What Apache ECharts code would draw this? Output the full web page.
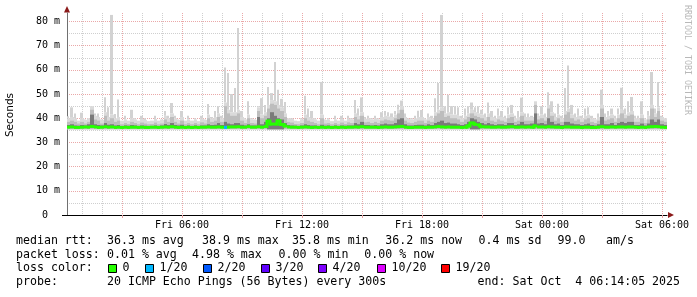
<!DOCTYPE html>
<html><head><meta charset="utf-8">
<script src="https://cdn.jsdelivr.net/npm/echarts@6/dist/echarts.min.js"></script>
<style>html,body{margin:0;padding:0;background:#fff}#c{width:697px;height:297px}</style>
</head><body><div id="c"></div>
<script>
// ---------- data (10-minute slots, Fri 00:15 -> Sat 06:15) ----------
const slotMinutes = 10;
const smokeFloor = 35.4;   // lowest ping, ms
const maxPing = [
 40.8,44.5,42,39,42.3,39.5,40,45,42,42,
 39.5,48.7,44.5,82.7,41.8,47.7,39,41,39,43.5,
 40,39,41,40,38.8,39,41,39,39.5,43,
 41,46.3,41,39.5,43,39,41,39,40,38.8,
 41,39.5,45.9,40.5,43,45,41,61,58.7,50,
 52.5,77.3,43,40,47,40,39.5,45,48.3,45.5,
 52.9,50.4,63.2,51.8,48,46.7,40,40,39,38.8,
 40,49.3,44,43,40,39,55,39.5,40,38.8,
 41,39,41,39,41,40,47.5,44,48.6,40.5,
 41,40,41,40,42.5,43,42.5,42,43,45.6,
 47.3,42,40,40,41,43.1,43.4,40,42,41,
 48.3,54.6,82.7,45,49.7,45,45,44.5,41,44,
 45,46.5,44.5,45,43.5,42,46.5,43,41,44,
 43,41,44.5,45.5,41,43,48.5,42,42,41,
 47,42,45,42,50.7,47,42,46,41,52.5,
 61.8,45.5,42,44,41,44,44.5,41,40,42,
 51.8,42,43,44,41,44,52.6,44,47,48.8,
 41,41,47,40,43,59.1,44,55,41,40];
const upperPing = [
 38.5,39,38.5,37.8,38.5,37.8,38.5,43.5,39.5,39,
 37.8,41,39,40,38.5,39,37.5,38,37.6,38.5,
 38,37.5,38.2,37.8,37.5,37.6,38.2,37.5,37.8,39.5,
 38.5,40.5,38.5,37.8,39,37.5,38,37.5,38,37.5,
 38.3,37.8,40,38.5,39,40.5,38.5,45,42,41,
 41,42,39,38,40,38,37.8,43,40,41,
 44,46,45.5,44,43,40.5,38.5,38.2,37.6,37.5,
 38,40,39,38.5,38,37.5,40,37.8,38,37.5,
 38,37.5,38.2,37.6,38.3,38,40.5,39.5,41,38.3,
 38.5,38,38.5,38,39,39.5,39.2,39,40,42,
 43.5,39,38.2,38,38.5,39,39,38,39,38.5,
 41,42,43,40.5,41,40,40,39.5,38.5,39.5,
 40.5,42,41,40.5,40,39,40.5,39,38.5,39.5,
 39,38.5,40,40.5,38.5,39,41,39,39,39,
 45.5,39.5,40,39,44,41,39,40,38.5,41.5,
 42.5,40,39,39.5,38.5,39.5,40,38.5,38,39,
 44,39,39.5,40,38.5,40,42,40,41,41.5,
 38.5,38.5,40,38,39.5,44,40.5,43,39,38.5];
const densePing = [
 37.2,37.5,37,36.9,37.2,37,37.5,41.5,37.5,37.2,
 37,38,37.3,37.5,37,37.2,36.8,37,36.9,37.2,
 37,36.8,37,36.9,36.8,36.8,37,36.8,37,37.6,
 37.2,38,37.2,37,37.3,36.8,37,36.8,37,36.8,
 37,37,37.5,37.2,37.3,38,37.2,38.5,37.8,37.5,
 38,38,37.3,37,37.5,37,37,40.5,37.5,38.5,
 40,42.5,41,40,39.5,38,37.2,37,36.9,36.8,
 37,37.5,37.2,37,37,36.8,37.3,36.9,37,36.8,
 37,36.8,37,36.9,37,37,38,37.5,38.5,37.2,
 37.2,37,37.2,37,37.5,37.8,37.5,37.5,38,39.5,
 40,37.5,37,37,37.2,37.3,37.3,37,37.5,37.2,
 38,38.5,39,38,38.2,37.8,37.8,37.5,37.2,37.5,
 38.5,40,39.5,38.5,38,37.5,38,37.5,37.2,37.5,
 37.5,37.2,38,38,37.2,37.5,38.5,37.5,37.5,37.8,
 42,37.8,38,37.5,40,38.5,37.5,37.8,37.2,38.5,
 38.5,37.8,37.5,37.5,37.2,37.5,37.8,37.2,37,37.5,
 40.5,37.5,37.5,38,37.2,38,38.5,38,38.5,38.5,
 37.2,37.2,37.8,37,37.8,39.5,38.5,39.5,37.5,37.2];
const medianRtt = [
 36.3,36.4,36.2,36.2,36.3,36.4,36.3,36.6,36.4,36.2,
 36.3,36.5,36.3,36.4,36.2,36.3,36.2,36.3,36.2,36.3,
 36.3,36.2,36.3,36.2,36.2,36.3,36.3,36.2,36.3,36.4,
 36.3,36.5,36.3,36.2,36.3,36.2,36.3,36.2,36.3,36.2,
 36.3,36.3,36.4,36.3,36.3,36.4,36.3,36.2,36.3,36.4,
 36.4,36.5,36.3,36.3,36.6,36.3,36.3,36.5,36.3,36.6,
 38.8,37.6,37.6,38.9,37.4,36.8,36.4,36.3,36.3,36.2,
 36.3,36.4,36.3,36.2,36.3,36.2,36.3,36.2,36.3,36.2,
 36.3,36.2,36.3,36.2,36.3,36.3,36.4,36.3,36.5,36.3,
 36.3,36.3,36.3,36.2,36.3,36.4,36.3,36.3,36.4,36.5,
 36.6,36.3,36.2,36.2,36.3,36.3,36.3,36.2,36.3,36.3,
 36.4,36.6,36.4,36.3,36.4,36.3,36.3,36.3,36.2,36.3,
 36.8,38,37.5,37.2,36.5,36.4,36.4,36.3,36.3,36.4,
 36.3,36.3,36.4,36.5,36.3,36.3,36.4,36.3,36.4,36.3,
 36.8,36.4,36.4,36.3,36.5,36.4,36.3,36.3,36.2,36.4,
 36.4,36.3,36.3,36.3,36.2,36.3,36.3,36.2,36.2,36.3,
 36.5,36.3,36.3,36.4,36.3,36.4,36.4,36.3,36.4,36.4,
 36.3,36.2,36.3,36.2,36.4,36.5,36.6,36.5,36.3,36.2];
const lossEvents = [[47, 1]];          // [slot, pings lost of 20]
const lossLevels = [0, 1, 2, 3, 4, 10, 19];
const lossLabels = ['0', '1/20', '2/20', '3/20', '4/20', '10/20', '19/20'];
const lossColors = ['#26ff00', '#00b8ff', '#0059ff', '#5e00ff', '#7e00ff', '#dd00ff', '#ff0000'];
const yTickStep = 5, yMax = 83.5;
const days = ['Fri', 'Sat'];
const startMinute = 15;                // 00:15 Friday
const legendLines = [
  [['median rtt:', 16], ['36.3 ms avg', 107], ['38.9 ms max', 202], ['35.8 ms min', 292], ['36.2 ms now', 385.3], ['0.4 ms sd', 478.6], ['99.0', 557.6], ['am/s', 606]],
  [['packet loss:', 16], ['0.01 % avg', 107], ['4.98 % max', 192], ['0.00 % min', 278.6], ['0.00 % now', 364.3]],
  [['loss color:', 16]],
  [['probe:', 16], ['20 ICMP Echo Pings (56 Bytes) every 300s', 107], ['end: Sat Oct  4 06:14:05 2025', 477.6]]
];

// ---------- build ----------
const pad = n => String(n).padStart(2, '0');
function stamp(min) { const d = Math.floor(min / 1440), m = min % 1440; return days[d] + ' ' + pad(Math.floor(m / 60)) + ':' + pad(m % 60); }
const slotCats = maxPing.map((_, i) => stamp(startMinute + i * slotMinutes));
const gridCats = [];
for (let m = startMinute; m <= startMinute + maxPing.length * slotMinutes; m += 15) gridCats.push(stamp(m));
const hm = v => [+v.slice(-5, -3), +v.slice(-2)];
const isMajor = (i, v) => { const [h, m] = hm(v); return m === 0 && h % 3 === 0; };
const isMinor = (i, v) => { const [h, m] = hm(v); return m === 0 && h % 3 !== 0; };
const isLabel = (i, v) => { const [h, m] = hm(v); return m === 0 && h % 6 === 0; };
function lossColor(i) {
  const e = lossEvents.find(x => x[0] === i); const lost = e ? e[1] : 0;
  let k = 0; lossLevels.forEach((lv, j) => { if (lost >= lv) k = j; }); return lossColors[k];
}
const MONO = '"DejaVu Sans Mono", monospace';
const smokeData = maxPing.map((v, i) => [i, v, upperPing[i], densePing[i], medianRtt[i]]);
const medData = medianRtt.map((v, i) => [i, v]);

const chart = echarts.init(document.getElementById('c'), null, { renderer: 'canvas' });
const graphics = [
  { type: 'text', x: 10, y: 115, rotation: Math.PI / 2, style: { text: 'Seconds', x: 0, y: 0, font: '10.5px "DejaVu Sans", sans-serif', fill: '#000', align: 'center', verticalAlign: 'middle', textAlign: 'center', textVerticalAlign: 'middle' } },
  { type: 'text', x: 687, y: 60, rotation: -Math.PI / 2, style: { text: 'RRDTOOL / TOBI OETIKER', x: 0, y: 0, font: '8.3px ' + MONO, fill: '#b8b8b8', align: 'center', verticalAlign: 'middle', textAlign: 'center', textVerticalAlign: 'middle' } },
  { type: 'polygon', shape: { points: [[67, 6], [64, 12.5], [70, 12.5]] }, style: { fill: '#8b1a1a' } },
  { type: 'polygon', shape: { points: [[674, 215], [668, 212], [668, 218]] }, style: { fill: '#8b1a1a' } },
  { type: 'line', shape: { x1: 62, y1: 215.5, x2: 67, y2: 215.5 }, style: { stroke: '#000', lineWidth: 1 } }
];
const lineY = [240.8, 254.6, 268.4, 282.4];
legendLines.forEach((line, li) => line.forEach(([t, x]) => graphics.push({ type: 'text', style: { text: t, x, y: lineY[li], font: '11.6px ' + MONO, fill: '#000', verticalAlign: 'middle', textVerticalAlign: 'middle' } })));
const keyX = [108.5, 145.5, 203.5, 261.5, 318.5, 377.5, 441.5];
lossLabels.forEach((lab, j) => {
  graphics.push({ type: 'rect', shape: { x: keyX[j], y: 264.5, width: 8, height: 8 }, style: { fill: lossColors[j], stroke: '#000', lineWidth: 1 } });
  graphics.push({ type: 'text', style: { text: lab, x: keyX[j] + 14, y: lineY[2], font: '11.6px ' + MONO, fill: '#000', verticalAlign: 'middle', textVerticalAlign: 'middle' } });
});

chart.setOption({
  animation: false,
  backgroundColor: '#ffffff',
  grid: { left: 67, right: 30, top: 13, bottom: 82, containLabel: false, outerBoundsMode: 'none' },
  xAxis: [
    { type: 'category', data: slotCats, boundaryGap: true, show: false },
    { type: 'category', data: gridCats, boundaryGap: false, position: 'bottom',
      axisLine: { show: true, lineStyle: { color: '#000', width: 1 } },
      axisTick: { show: true, interval: isMajor, length: 3, lineStyle: { color: '#e8a0a0' } },
      axisLabel: { interval: isLabel, margin: 5, color: '#000', fontFamily: 'DejaVu Sans Mono', fontSize: 10 },
      splitLine: { show: true, interval: isMajor, lineStyle: { color: '#eaa8a8', type: [1, 1], width: 1 } } },
    { type: 'category', data: gridCats, boundaryGap: false, position: 'bottom',
      axisLine: { show: false }, axisTick: { show: false }, axisLabel: { show: false },
      splitLine: { show: true, interval: isMinor, lineStyle: { color: '#cfcfcf', type: [1, 1], width: 1 } } }
  ],
  yAxis: [{
    type: 'value', min: 0, max: yMax, interval: yTickStep,
    axisLine: { show: true, lineStyle: { color: '#707070' } },
    axisTick: { show: false },
    axisLabel: { margin: 7, color: '#000', fontFamily: 'DejaVu Sans Mono', fontSize: 10,
      formatter: v => (v % 10 === 0 ? (v === 0 ? '0  ' : v + ' m') : '') },
    splitLine: { show: true, showMinLine: false, showMaxLine: false, lineStyle: { color: ['#cfcfcf', '#eaa8a8'], type: [1, 1], width: 1 } }
  }],
  series: [
    { type: 'custom', xAxisIndex: 0, yAxisIndex: 0, data: smokeData, encode: { x: 0, y: [1, 2, 3, 4] }, silent: true,
      renderItem(params, api) {
        const i = api.value(0);
        const base = api.coord([i, smokeFloor]);
        const w = api.size([1, 0])[0];
        const x0 = Math.round(base[0] - w / 2), x1 = Math.round(base[0] + w / 2);
        const med = api.value(4), yMed = api.coord([i, med])[1];
        const rect = (val, color, from, a, b) => { const y = api.coord([i, val])[1]; return { type: 'rect', shape: { x: a, y, width: b - a, height: Math.max(0, from - y) }, style: { fill: color } }; };
        const up = api.value(2), mx = api.value(1);
        const shoulder = Math.min(mx, up + 1.5);
        const kids = [];
        // narrower spike above the shoulder of the light smoke
        if (mx > shoulder) kids.push(rect(mx, '#d2d2d2', api.coord([i, shoulder])[1], x0, x1 - 1));
        kids.push(rect(shoulder, '#dadada', base[1], x0, x1));
        kids.push(rect(up, '#bdbdbd', base[1], x0, x1));
        kids.push(rect(api.value(3), '#7a7a7a', med > 37 ? base[1] : yMed, x0, x1));
        return { type: 'group', children: kids };
      } },
    { type: 'custom', xAxisIndex: 0, yAxisIndex: 0, data: medData, encode: { x: 0, y: 1 }, silent: true,
      renderItem(params, api) {
        const i = api.value(0);
        const c = api.coord([i, api.value(1)]);
        const w = api.size([1, 0])[0];
        const x0 = Math.round(c[0] - w / 2), x1 = Math.round(c[0] + w / 2);
        const col = lossColor(i);
        const kids = [{ type: 'rect', shape: { x: x0, y: c[1] - 1.5, width: x1 - x0, height: 3 }, style: { fill: col } }];
        if (i > 0) {
          const yp = api.coord([i, medianRtt[i - 1]])[1];
          if (Math.abs(yp - c[1]) > 1) kids.push({ type: 'rect', shape: { x: x0 - 1.5, y: Math.min(yp, c[1]) - 1.5, width: 3, height: Math.abs(yp - c[1]) + 3 }, style: { fill: col } });
        }
        return { type: 'group', children: kids };
      } }
  ],
  graphic: graphics
});
</script></body></html>
